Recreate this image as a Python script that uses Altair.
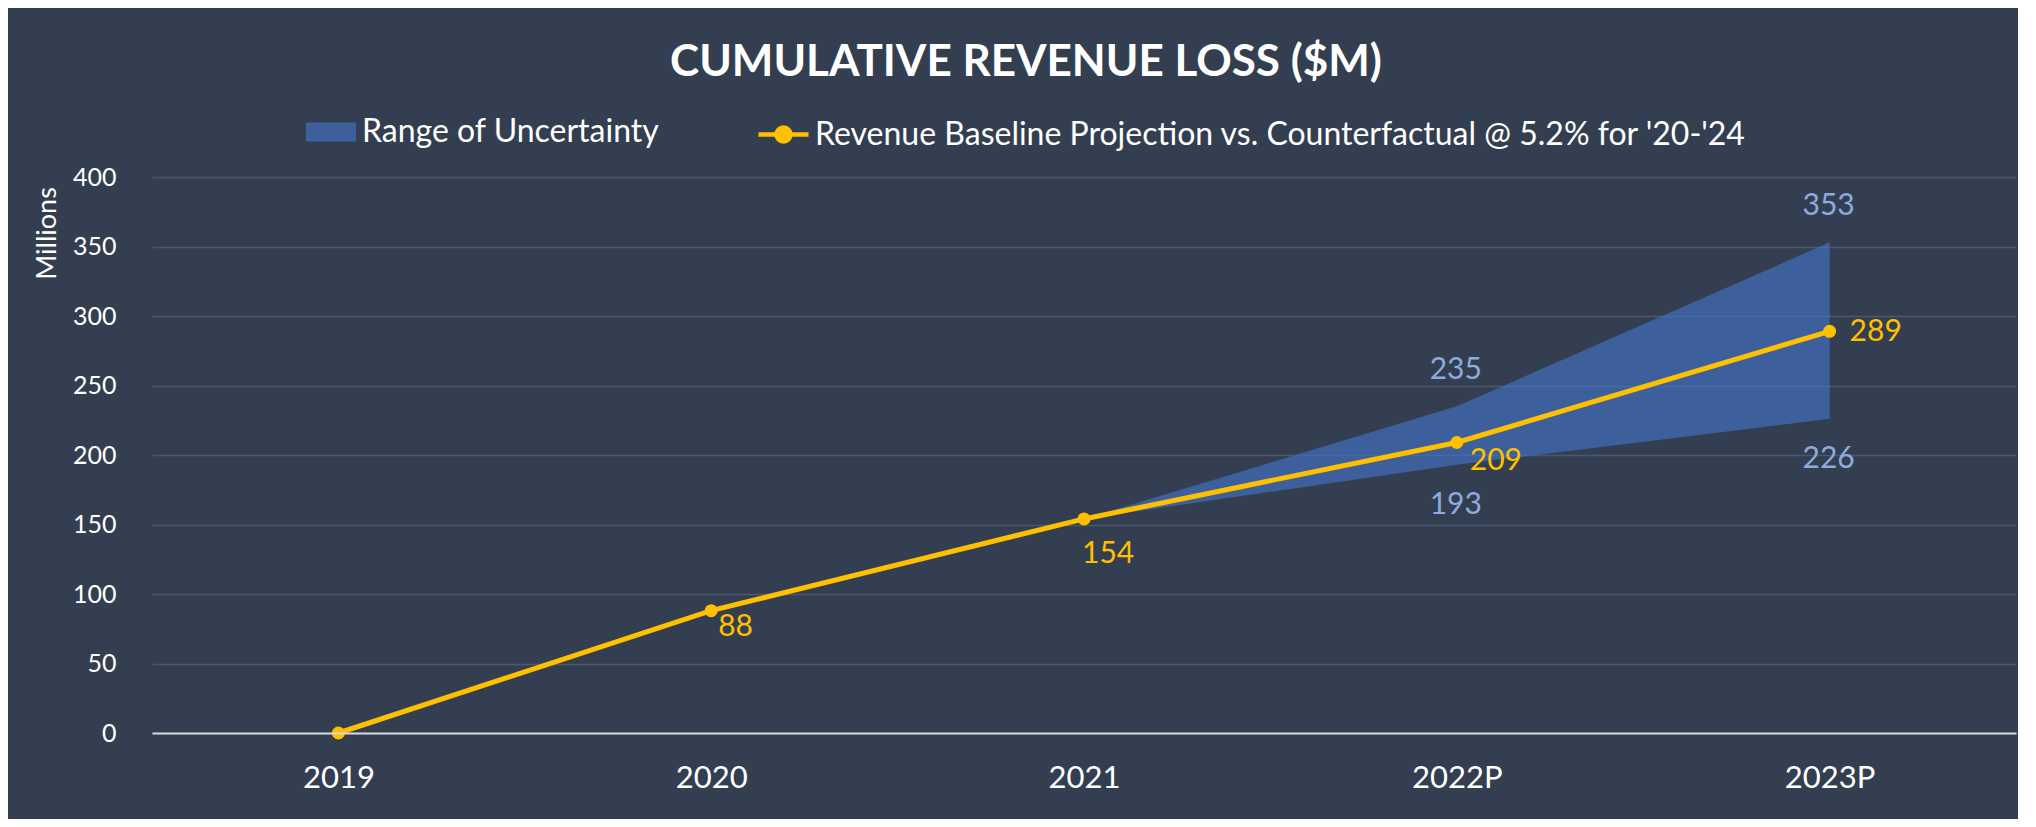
import altair as alt
import pandas as pd

# ---- data ----
years = ["2019", "2020", "2021", "2022P", "2023P"]
baseline = [0, 88, 154, 209, 289]
range_years = ["2021", "2022P", "2023P"]
range_low = [154, 193, 226]
range_high = [154, 235, 353]

RANGE_NAME = "Range of Uncertainty"
LINE_NAME = "Revenue Baseline Projection vs. Counterfactual @ 5.2% for '20-'24"

line_df = pd.DataFrame({"year": years, "value": baseline, "series": LINE_NAME})
range_df = pd.DataFrame({"year": range_years, "low": range_low, "high": range_high,
                         "series": RANGE_NAME})

BG = "#333F50"
YEL = "#FFC000"
LBLUE = "#8FAADC"
FONT = "Lato"

x_enc = alt.X("year:N", sort=years,
              scale=alt.Scale(type="point", padding=0.5, domain=years),
              axis=alt.Axis(title=None, labelAngle=0, ticks=False, grid=False,
                            domainColor="#D9D9D9", domainWidth=2,
                            labelFont=FONT, labelFontSize=31, labelColor="#FFFFFF",
                            labelPadding=30, zindex=1))
y_scale = alt.Scale(domain=[0, 400], nice=False, zero=True)

area = alt.Chart(range_df).mark_area(opacity=0.65).encode(
    x=x_enc,
    y=alt.Y("low:Q", scale=y_scale,
            axis=alt.Axis(values=list(range(0, 401, 50)), grid=True,
                          gridColor="#4A5970", gridWidth=1.5,
                          domain=False, ticks=False,
                          labelFont=FONT, labelFontSize=25, labelColor="#FFFFFF",
                          labelPadding=36,
                          title="Millions", titleFont=FONT, titleFontSize=27,
                          titleFontWeight="normal", titleColor="#FFFFFF",
                          titleAngle=270, titleX=-105, titleY=56,
                          titleAlign="center", titleBaseline="middle")),
    y2="high:Q",
    fill=alt.Fill("series:N",
                  scale=alt.Scale(domain=[RANGE_NAME], range=["#4472C4"]),
                  legend=alt.Legend(title=None, orient="none", legendX=154, legendY=-70,
                                    padding=0,
                                    symbolType="M-1,-0.38H1V0.38H-1Z", symbolSize=2500,
                                    symbolOpacity=0.65, symbolStrokeWidth=0,
                                    labelFont=FONT, labelFontSize=32, labelColor="#FFFFFF",
                                    labelOffset=6, labelLimit=2000)),
)

line = alt.Chart(line_df).mark_line(strokeWidth=5).encode(
    x=alt.X("year:N", sort=years),
    y=alt.Y("value:Q", scale=y_scale),
    stroke=alt.Stroke("series:N",
                      scale=alt.Scale(domain=[LINE_NAME], range=[YEL]),
                      legend=alt.Legend(title=None, orient="none", legendX=604, legendY=-70,
                                        padding=0,
                                        symbolType="M-1,0H1M-0.28,0A0.28,0.28 0 1,1 0.28,0A0.28,0.28 0 1,1 -0.28,0Z",
                                        symbolSize=2500, symbolStrokeWidth=4.5,
                                        symbolFillColor=YEL,
                                        labelFont=FONT, labelFontSize=32, labelColor="#FFFFFF",
                                        labelOffset=4, labelLimit=2000)),
)

points = alt.Chart(line_df).mark_point(filled=True, size=170, opacity=1, color=YEL).encode(
    x=alt.X("year:N", sort=years),
    y=alt.Y("value:Q", scale=y_scale),
)


def base_label(year, dx, dy):
    return alt.Chart(line_df).transform_filter(alt.datum.year == year).mark_text(
        align="left", baseline="middle", dx=dx, dy=dy,
        font=FONT, fontSize=30, color=YEL).encode(
        x=alt.X("year:N", sort=years),
        y=alt.Y("value:Q", scale=y_scale),
        text=alt.Text("value:Q", format="d"))


lab88 = base_label("2020", 7, 16)
lab154 = base_label("2021", -2, 35)
lab209 = base_label("2022P", 13, 19)
lab289 = base_label("2023P", 20, 1)

range_lab_filter = (alt.datum.year != "2021")
upper_lab = alt.Chart(range_df).transform_filter(range_lab_filter).mark_text(
    align="center", baseline="middle", dx=-1, dy=-36,
    font=FONT, fontSize=30, color=LBLUE).encode(
    x=alt.X("year:N", sort=years),
    y=alt.Y("high:Q", scale=y_scale),
    text=alt.Text("high:Q", format="d"))
lower_lab = alt.Chart(range_df).transform_filter(range_lab_filter).mark_text(
    align="center", baseline="middle", dx=-1, dy=40,
    font=FONT, fontSize=30, color=LBLUE).encode(
    x=alt.X("year:N", sort=years),
    y=alt.Y("low:Q", scale=y_scale),
    text=alt.Text("low:Q", format="d"))

chart = alt.layer(area, line, points, lab88, lab154, lab209, lab289, upper_lab, lower_lab).properties(
    width=1864, height=556,
    autosize=alt.AutoSizeParams(type="none"),
    padding={"left": 144, "top": 169, "right": 2, "bottom": 86},
    background=BG,
    title=alt.TitleParams("CUMULATIVE REVENUE LOSS ($M)", font=FONT, fontSize=44,
                          fontWeight="bold", color="#FFFFFF", anchor="middle",
                          dx=-58, offset=22),
).resolve_scale(fill="independent", stroke="independent").configure_view(stroke=None)

chart.save("out.html", embed_options={"renderer": "svg", "actions": False})
